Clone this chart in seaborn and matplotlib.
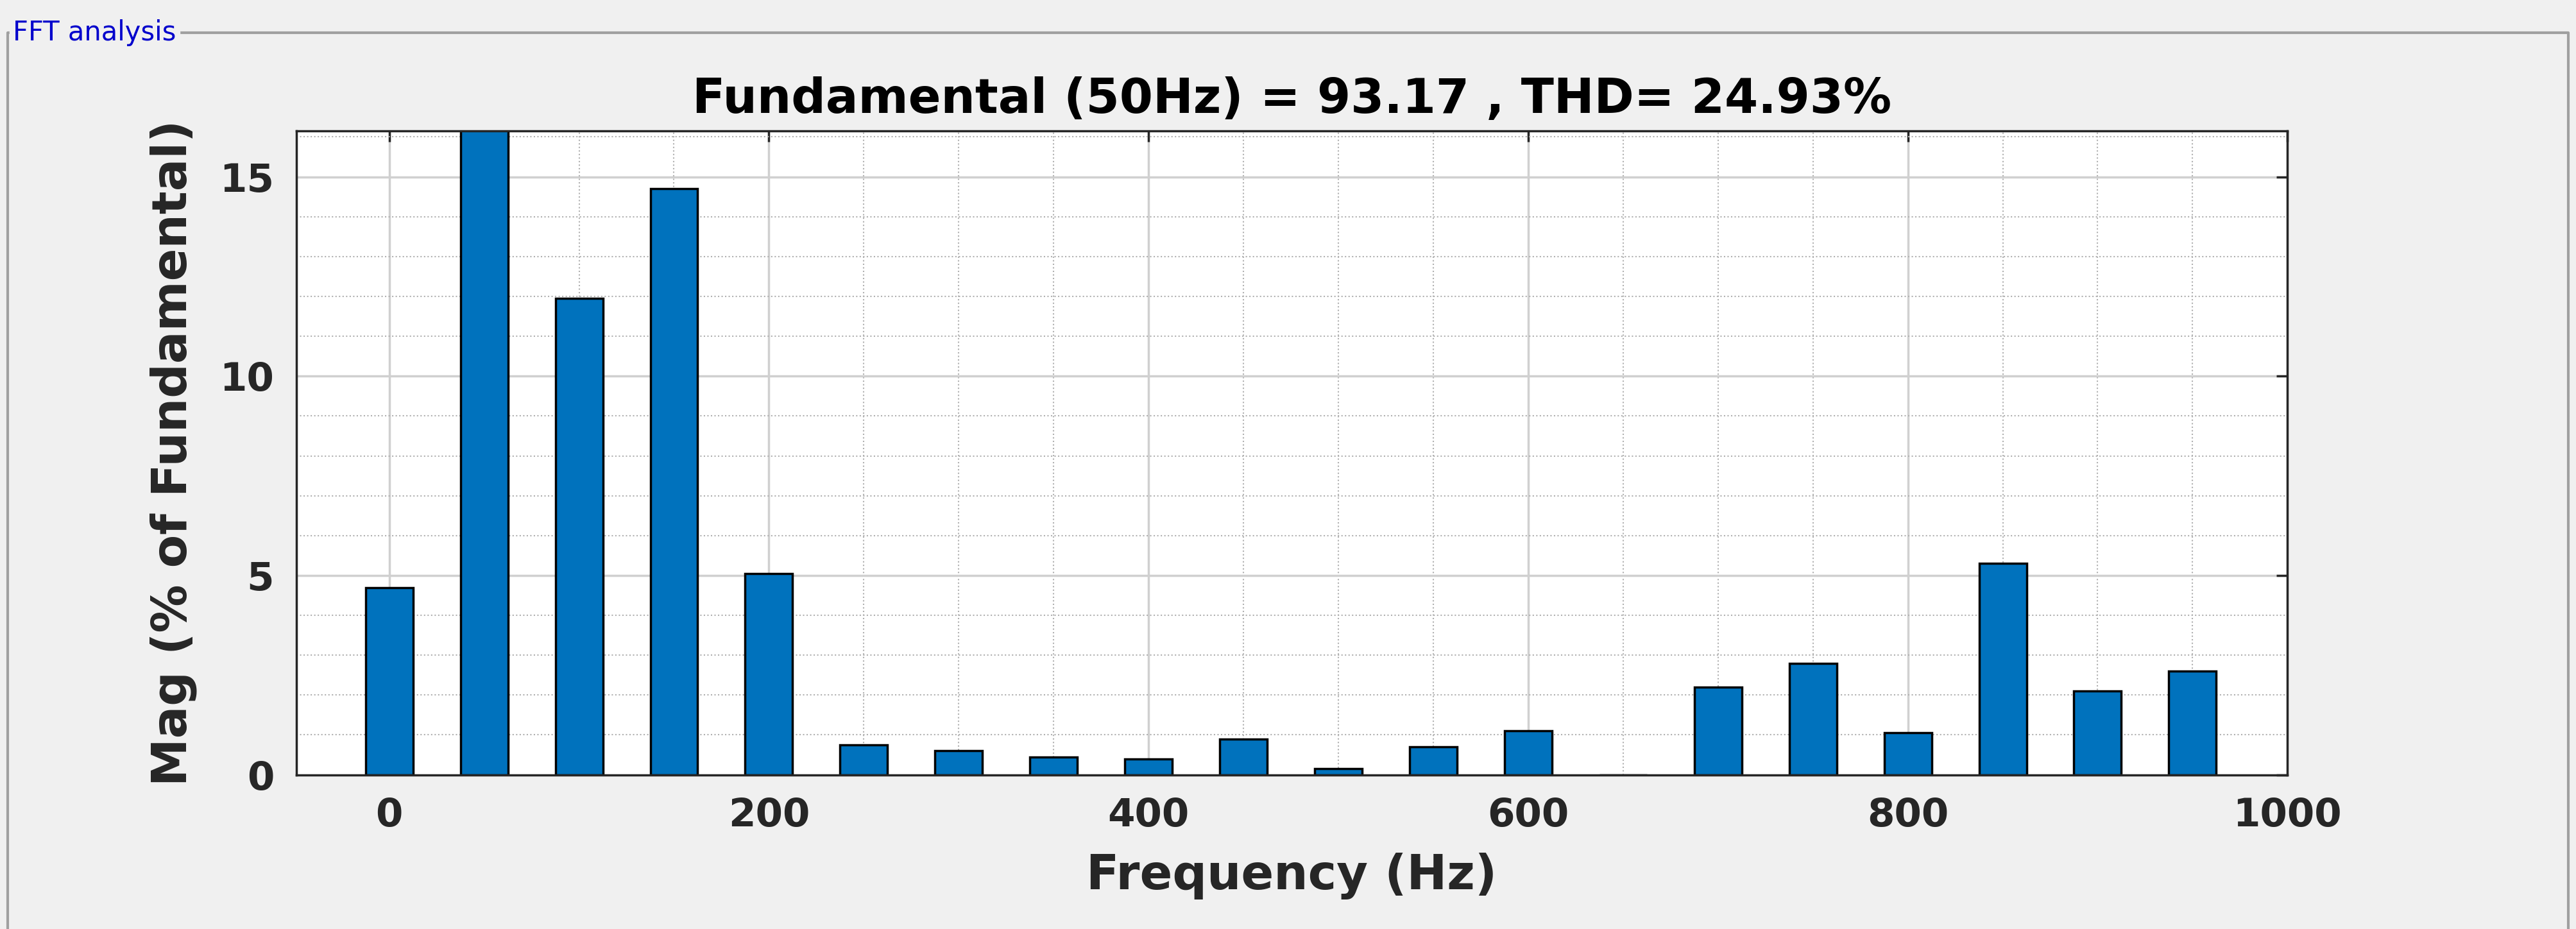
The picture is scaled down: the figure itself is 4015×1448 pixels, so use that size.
import matplotlib
matplotlib.use("Agg")
import matplotlib.pyplot as plt
import seaborn as sns
import pandas as pd
import numpy as np

freqs = [0, 50, 100, 150, 200, 250, 300, 350, 400, 450, 500, 550, 600, 650, 700, 750, 800, 850, 900, 950]
mags = [4.7, 17.0, 11.95, 14.7, 5.05, 0.75, 0.6, 0.45, 0.4, 0.9, 0.15, 0.7, 1.1, 0.0, 2.2, 2.8, 1.05, 5.3, 2.1, 2.6]
title = "Fundamental (50Hz) = 93.17 , THD= 24.93%"
xlabel = "Frequency (Hz)"
ylabel = "Mag (% of Fundamental)"

sns.set_theme(style="white")
plt.rcParams['font.family'] = ['DejaVu Sans']
df = pd.DataFrame({"f": freqs, "m": mags})

fig = plt.figure(figsize=(40.15, 14.48), dpi=100, facecolor="#f0f0f0")
ax = fig.add_axes([0.115, 0.166, 0.773, 0.693])
ax.set_facecolor("white")
sns.barplot(data=df, x="f", y="m", native_scale=True, width=0.5, color="#0072BD",
            saturation=1, edgecolor="black", linewidth=2.5, ax=ax)
ax.set_xlim(-49, 1000)
ax.set_ylim(0, 16.15)
ax.set_xticks([0, 200, 400, 600, 800, 1000])
ax.set_yticks([0, 5, 10, 15])
ax.set_xticks(np.arange(0, 1001, 50), minor=True)
ax.set_yticks(np.arange(0, 16.2, 1), minor=True)
ax.grid(True, which="major", color="#d0d0d0", linewidth=2.5)
ax.grid(True, which="minor", color="#b0b0b0", linestyle=":", linewidth=1.5)
ax.set_axisbelow(True)
for s in ax.spines.values():
    s.set_color("#262626"); s.set_linewidth(2.5)
ax.tick_params(axis="both", which="major", labelsize=44, length=12, width=2.5,
               direction="in", colors="#262626", pad=25, top=True, right=True)
ax.tick_params(axis="both", which="minor", length=0)
for lab in ax.get_xticklabels() + ax.get_yticklabels():
    lab.set_fontweight("bold")
ax.set_xlabel(xlabel, fontsize=54, fontweight="bold", color="#262626", labelpad=20)
ax.set_ylabel(ylabel, fontsize=54, fontweight="bold", color="#262626", labelpad=25)
ax.set_title(title, fontsize=54, fontweight="bold", color="black", pad=20)

# panel frame
fig.add_artist(plt.Line2D([0.003, 0.003, 0.997, 0.997], [0.0, 0.965, 0.965, 0.0],
                          transform=fig.transFigure, color="#a0a0a0", linewidth=3))
fig.text(0.005, 0.965, "FFT analysis", color="#0000cc", fontsize=30, va="center",
         ha="left", backgroundcolor="#f0f0f0")

fig.savefig("out.png", dpi=100, facecolor=fig.get_facecolor())
